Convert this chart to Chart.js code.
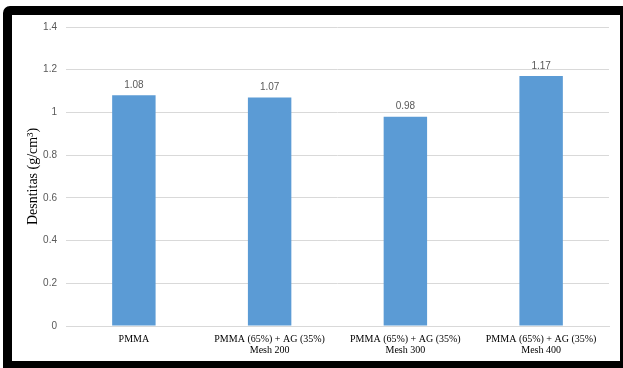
<!DOCTYPE html>
<html>
<head>
<meta charset="utf-8">
<script src="https://cdn.jsdelivr.net/npm/chart.js@4"></script>
<style>
  html, body { margin: 0; padding: 0; background: #fff; }
  body { width: 623px; height: 368px; position: relative; overflow: hidden; }
  #frame {
    position: absolute; left: 3px; top: 6px; right: 0; bottom: 0;
    border-style: solid; border-color: #000;
    border-width: 9px 3px 7px 9px;
    border-top-left-radius: 7px;
    background: #fff;
  }
  #wrap { position: absolute; left: 0; top: 0; width: 608px; height: 346px; }
</style>
</head>
<body>
<div id="frame">
  <div id="wrap"><canvas id="chart"></canvas></div>
</div>
<script>
// Density values per sample
const categories = [
  "PMMA",
  ["PMMA (65%) + AG (35%)", "Mesh 200"],
  ["PMMA (65%) + AG (35%)", "Mesh 300"],
  ["PMMA (65%) + AG (35%)", "Mesh 400"],
];
const densities = [1.08, 1.07, 0.98, 1.17];
const valueLabels = ["1.08", "1.07", "0.98", "1.17"];
const yTickLabels = ["0", "0.2", "0.4", "0.6", "0.8", "1", "1.2", "1.4"];

const serif = "'Liberation Serif', 'Times New Roman', serif";
const sans = "'Liberation Sans', Arial, sans-serif";

// simple value labels above the bars
const barLabels = {
  id: "barLabels",
  afterDatasetsDraw(chart) {
    const ctx = chart.ctx;
    const meta = chart.getDatasetMeta(0);
    ctx.save();
    ctx.fillStyle = "#595959";
    ctx.font = "10px " + sans;
    ctx.textAlign = "center";
    ctx.textBaseline = "middle";
    meta.data.forEach((bar, i) => {
      ctx.fillText(valueLabels[i], bar.x, bar.y - 10);
    });
    ctx.restore();
  },
};

new Chart(document.getElementById("chart"), {
  type: "bar",
  data: {
    labels: categories,
    datasets: [
      {
        data: densities,
        backgroundColor: "#5B9BD5",
        borderWidth: 0,
        categoryPercentage: 1,
        barPercentage: 0.32,
      },
    ],
  },
  options: {
    responsive: true,
    maintainAspectRatio: false,
    animation: false,
    layout: { padding: { left: 0, right: 11, top: 12, bottom: 0 } },
    plugins: {
      legend: { display: false },
      tooltip: { enabled: false },
    },
    scales: {
      x: {
        grid: { display: false, drawTicks: false },
        border: { color: "#D9D9D9" },
        ticks: {
          color: "#000",
          font: { family: serif, size: 10, lineHeight: 1.1 },
          padding: 8,
          maxRotation: 0,
          autoSkip: false,
        },
        afterFit: (scale) => { scale.height = 35; },
      },
      y: {
        min: 0,
        max: 1.4,
        grid: { color: "#D9D9D9", drawTicks: false },
        border: { display: false },
        ticks: {
          stepSize: 0.2,
          color: "#595959",
          font: { family: sans, size: 10 },
          padding: 9,
          callback: (v, i) => yTickLabels[i],
        },
        title: {
          display: true,
          text: "Desntitas (g/cm³)",
          color: "#000",
          font: { family: serif, size: 14 },
          padding: { top: 13, bottom: 0 },
        },
        afterFit: (scale) => {
          scale.width = 54;
          scale.paddingTop = 0;
          scale.paddingBottom = 0;
        },
      },
    },
  },
  plugins: [barLabels],
});
</script>
</body>
</html>
